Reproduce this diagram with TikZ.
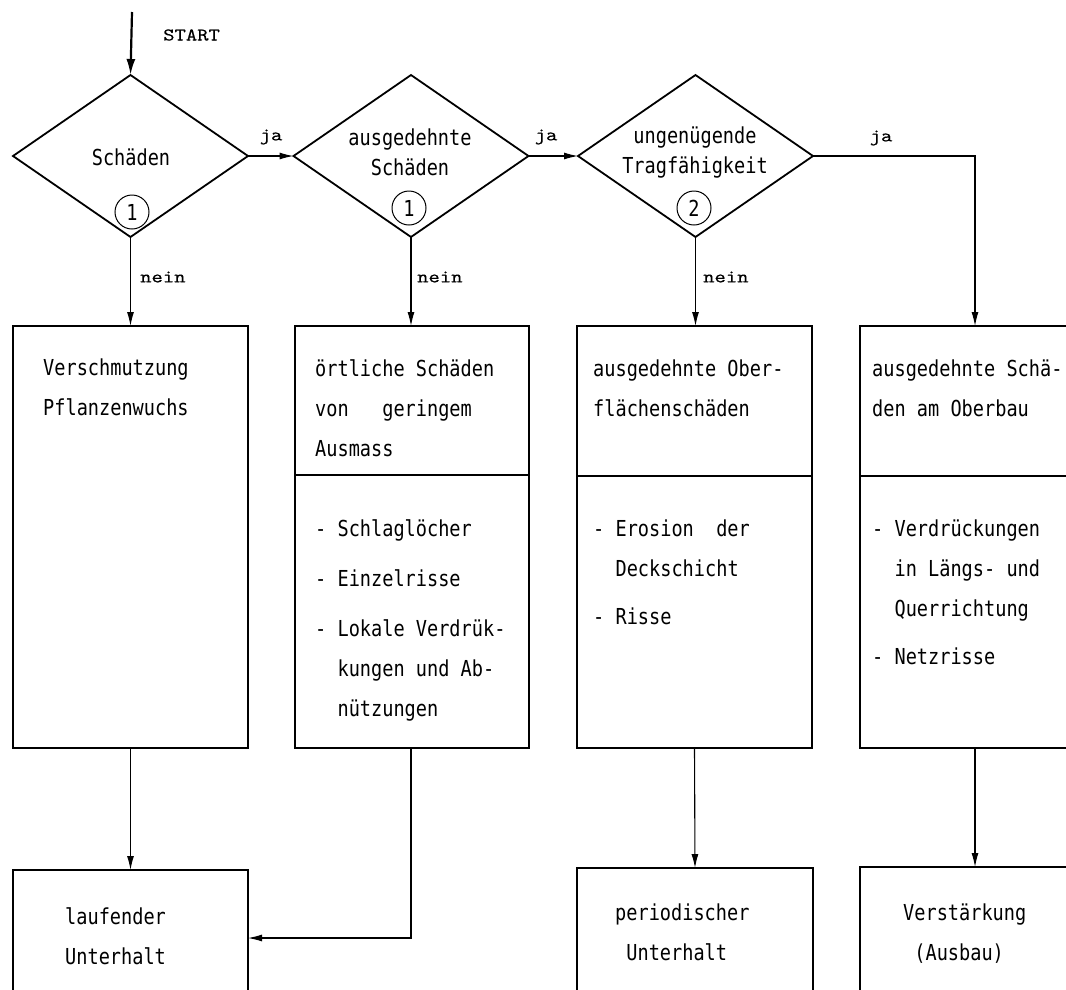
\documentclass[tikz,border=0pt]{standalone}
\usepackage{fontspec}
\usetikzlibrary{shapes.geometric,arrows.meta}
\newfontfamily\boxfont[FakeStretch=0.845]{DejaVu Sans Mono}
\newfontfamily\labfont{lmmono10-regular}[Extension=.otf, FakeStretch=1.2, FakeBold=0.3]
\newcommand{\fst}{\rule{0pt}{22pt}}
\newcommand{\ind}[1]{\phantom{#1}}
\begin{document}
\begin{tikzpicture}[x=1pt,y=-1pt,
  dia/.style={diamond, draw, line width=1.8pt, inner sep=0pt, outer sep=0pt},
  boxst/.style={rectangle, draw, line width=1.8pt, inner sep=0pt, outer sep=0pt},
  conn/.style={line width=1.1pt, -{Latex[length=14pt,width=7pt]}},
  divline/.style={line width=1.2pt},
  txt/.style={font=\boxfont\fontsize{22}{40}\selectfont, align=left, anchor=north west, inner sep=0pt},
  ctxt/.style={font=\boxfont\fontsize{22}{30}\selectfont, align=center, inner sep=0pt},
  lab/.style={font=\labfont\fontsize{18}{20}\selectfont, inner sep=0pt},
  num/.style={circle, draw, line width=1pt, minimum size=34pt, inner sep=0pt, font=\boxfont\fontsize{22}{24}\selectfont},
]
\useasboundingbox (0,0) rectangle (1066,989);
\clip (0,0) rectangle (1066,989);
\fill[white] (0,0) rectangle (1066,989);

% decisions
\node[dia, minimum width=235pt, minimum height=162pt] (d1) at (130.5,156) {};
\node[dia, minimum width=235pt, minimum height=162pt] (d2) at (411,156) {};
\node[dia, minimum width=235pt, minimum height=162pt] (d3) at (695.5,156) {};

\node[ctxt] (t1) at (131,157) {Schäden};
\node[ctxt] (t2) at (410,152) {ausgedehnte\\Schäden};
\node[ctxt] (t3) at (695,152) {ungenügende\\Tragfähigkeit};
\node[num] (n1) at (132,212) {1};
\node[num] (n2) at (409,208) {1};
\node[num] (n3) at (694,208) {2};

% upper boxes
\node[boxst, minimum width=235pt, minimum height=422pt] (b1) at (130.5,537) {};
\node[boxst, minimum width=234pt, minimum height=422pt] (b2) at (412,537) {};
\node[boxst, minimum width=235pt, minimum height=422pt] (b3) at (694.5,537) {};
\node[boxst, minimum width=230pt, minimum height=422pt] (b4) at (975,537) {};

\coordinate (y475) at (0,475);
\coordinate (y476) at (0,476);
\draw[divline] (b2.west |- y475) -- (b2.east |- y475);
\draw[divline] (b3.west |- y476) -- (b3.east |- y476);
\draw[divline] (b4.west |- y476) -- (b4.east |- y476);

% lower boxes
\node[boxst, minimum width=235pt, minimum height=136pt] (b1b) at (130.5,938) {};
\node[boxst, minimum width=236pt, minimum height=142pt] (b3b) at (695,939) {};
\node[boxst, minimum width=230pt, minimum height=142pt] (b4b) at (975,938) {};

% box texts
\node[txt] (x1) at (43,353) {\fst Verschmutzung\\Pflanzenwuchs};
\node[txt] (x2a) at (315,354) {\fst örtliche Schäden\\von\ind{xxx}geringem\\Ausmass};
\node[txt] (x2b) at (315,514) {\fst - Schlaglöcher\\[10pt]- Einzelrisse\\[10pt]- Lokale Verdrük-\\\ind{xx}kungen und Ab-\\\ind{xx}nützungen};
\node[txt] (x3a) at (593,354) {\fst ausgedehnte Ober-\\flächenschäden};
\node[txt] (x3b) at (593,514) {\fst - Erosion\ind{xx}der\\\ind{xx}Deckschicht\\[8pt]- Risse};
\node[txt] (x4a) at (872,354) {\fst ausgedehnte Schä-\\den am Oberbau};
\node[txt] (x4b) at (872,514) {\fst - Verdrückungen\\\ind{xx}in Längs- und\\\ind{xx}Querrichtung\\[8pt]- Netzrisse};
\node[txt] (x5) at (65,902) {\fst laufender\\Unterhalt};
\node[txt] (x6) at (615,898) {\fst periodischer\\\ind{x}Unterhalt};
\node[txt] (x7) at (903,898) {\fst Verstärkung\\\ind{x}(Ausbau)};

% labels
\node[lab, anchor=west] (start) at (163,35) {START};
\node[lab] (ja1) at (271,137) {ja};
\node[lab] (ja2) at (546,137) {ja};
\node[lab] (ja3) at (881,138) {ja};
\node[lab, anchor=west] (ne1) at (140,277) {nein};
\node[lab, anchor=west] (ne2) at (417,277) {nein};
\node[lab, anchor=west] (ne3) at (703,277) {nein};

% connectors
\coordinate (s0) at (132,12);
\draw[line width=2.2pt, -{Latex[length=16pt,width=9pt]}] (s0) -- (d1.north);
\draw[conn] (d1.east) -- (d2.west);
\draw[conn] (d2.east) -- (d3.west);
\draw[conn] (d3.east) -| (b4.north);
\draw[conn] (d1.south) -- (d1.south |- b1.north);
\draw[conn] (d2.south) -- (d2.south |- b2.north);
\draw[conn] (d3.south) -- (d3.south |- b3.north);
\draw[conn] (b1.south) -- (b1b.north);
\draw[conn] (d2.south |- b2.south) |- (b1b.east);
\draw[conn] (b3.south) -- (b3b.north);
\draw[conn] (b4.south) -- (b4b.north);
\end{tikzpicture}
\end{document}
